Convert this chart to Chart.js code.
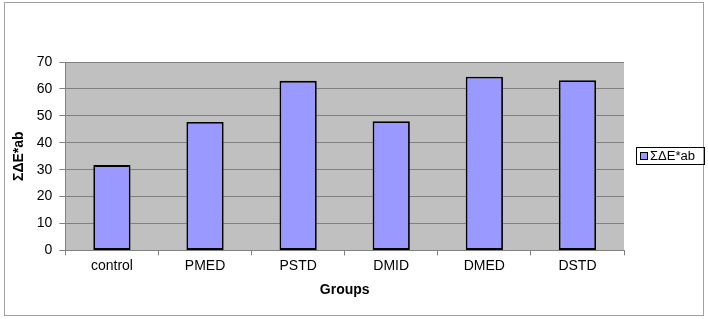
<!DOCTYPE html>
<html>
<head>
<meta charset="utf-8">
<script src="https://cdn.jsdelivr.net/npm/chart.js@4.4.0/dist/chart.umd.min.js"></script>
<style>
  html, body { margin: 0; padding: 0; background: #fff; }
  #wrap { width: 708px; height: 319px; position: relative; }
</style>
</head>
<body>
<div id="wrap"><canvas id="grafico"></canvas></div>
<script>
// datos
var grupos = ["control", "PMED", "PSTD", "DMID", "DMED", "DSTD"];
var serieNombre = "ΣΔE*ab";
var valores = [31.7, 47.7, 63.0, 48.0, 64.5, 63.2];
var tituloY = "ΣΔE*ab";
var tituloX = "Groups";

var fuente = "'Liberation Sans', Arial, sans-serif";

// fondo gris del area, marco exterior y leyenda con recuadro
var decorado = {
    id: "decorado",
    beforeDraw: function(chart){
        var c = chart.ctx;
        var a = chart.chartArea;
        c.save();
        c.fillStyle = "#fff";
        c.fillRect(0, 0, chart.width, chart.height);
        c.fillStyle = "#C0C0C0";
        c.fillRect(a.left, a.top, a.right - a.left, a.bottom - a.top);
        c.restore();
    },
    afterDraw: function(chart){
        var c = chart.ctx;
        c.save();
        // marco exterior
        c.strokeStyle = "#a0a0a0";
        c.lineWidth = 1;
        c.strokeRect(4.5, 2.5, 699, 313);
        // leyenda
        var ds = chart.data.datasets[0];
        c.strokeStyle = "#000";
        c.strokeRect(636.5, 147.5, 68, 17);
        c.fillStyle = ds.backgroundColor;
        c.fillRect(640.5, 152.5, 7, 7);
        c.strokeRect(640.5, 152.5, 7, 7);
        c.fillStyle = "#000";
        c.font = "13px " + fuente;
        c.textBaseline = "middle";
        c.fillText(ds.label, 650, 156.5);
        c.restore();
    }
};

var ctx = document.getElementById("grafico").getContext("2d");
var chart = new Chart(ctx, {
    type: "bar",
    plugins: [decorado],
    data: {
        labels: grupos,
        datasets: [{
            label: serieNombre,
            data: valores,
            backgroundColor: "#9999FF",
            borderColor: "#000000",
            borderWidth: 1.8,
            borderSkipped: false,
            barPercentage: 0.8,
            categoryPercentage: 0.5
        }]
    },
    options: {
        responsive: true,
        maintainAspectRatio: false,
        animation: false,
        devicePixelRatio: 1,
        layout: { padding: { left: 11, right: 84, top: 62, bottom: 20 } },
        plugins: {
            legend: { display: false },
            tooltip: { enabled: false }
        },
        scales: {
            x: {
                grid: {
                    offset: true,
                    drawOnChartArea: false,
                    color: "#808080",
                    tickLength: 5
                },
                border: { color: "#808080", width: 1 },
                ticks: { color: "#000", font: { family: fuente, size: 14 }, padding: 2 },
                title: {
                    display: true,
                    text: tituloX,
                    color: "#000",
                    font: { family: fuente, size: 14, weight: "bold" },
                    padding: { top: 6, bottom: 0 }
                }
            },
            y: {
                min: 0,
                max: 70,
                ticks: {
                    stepSize: 10,
                    color: "#000",
                    font: { family: fuente, size: 14 },
                    padding: 7
                },
                grid: { color: "#808080", tickLength: 6 },
                border: { color: "#808080", width: 1 },
                title: {
                    display: true,
                    text: tituloY,
                    color: "#000",
                    font: { family: fuente, size: 14, weight: "bold" },
                    padding: { top: 0, bottom: 2 }
                }
            }
        }
    }
});
</script>
</body>
</html>
